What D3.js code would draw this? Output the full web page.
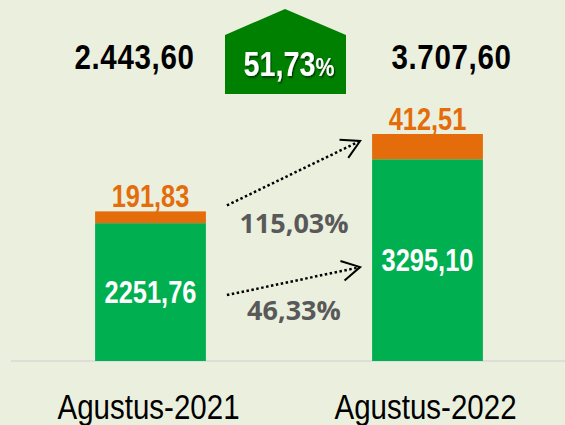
<!DOCTYPE html>
<html>
<head>
<meta charset="utf-8">
<script src="https://cdn.jsdelivr.net/npm/d3@7"></script>
<style>
  html, body { margin: 0; padding: 0; background: #ebf0de; }
  svg { display: block; }
</style>
</head>
<body>
<script>
const categories = ["Agustus-2021", "Agustus-2022"];
const greenValues = [2251.76, 3295.10];
const orangeValues = [191.83, 412.51];
const totalLabels = ["2.443,60", "3.707,60"];
const growthLabels = ["115,03%", "46,33%"]; // orange growth, green growth
const overallGrowth = "51,73";

const width = 565;
const height = 425;
const baseY = 361;
// no narrow font installed, so squeeze Liberation Sans horizontally
const sans = "'Liberation Sans', Arial, sans-serif";
const squeeze = 0.82;
const at = (px, py) => `translate(${px},${py}) scale(${squeeze},1)`;

const totals = greenValues.map((g, i) => g + orangeValues[i]);
const fmt = v => d3.format(".2f")(v).replace(".", ",");

const svg = d3
  .select("body")
  .append("svg")
  .attr("width", width)
  .attr("height", height);

svg.append("rect").attr("width", width).attr("height", height).attr("fill", "#ebf0de");

const defs = svg.append("defs");
defs
  .append("marker")
  .attr("id", "arrow")
  .attr("markerUnits", "userSpaceOnUse")
  .attr("orient", "auto")
  .attr("refX", 0)
  .attr("refY", 0)
  .attr("markerWidth", 30)
  .attr("markerHeight", 30)
  .attr("viewBox", "-25 -15 30 30")
  .append("path")
  .attr("d", "M-18,-10L0,0L-18,10")
  .attr("fill", "none")
  .attr("stroke", "#000")
  .attr("stroke-width", 2);

defs
  .append("filter")
  .attr("id", "shadow")
  .append("feDropShadow")
  .attr("dx", 1.5)
  .attr("dy", 1.5)
  .attr("stdDeviation", 0.8)
  .attr("flood-color", "#000")
  .attr("flood-opacity", 0.6);

const x = d3
  .scaleBand()
  .domain(categories)
  .range([12, 566])
  .paddingInner(0.6)
  .paddingOuter(0.3);

const y = d3
  .scaleLinear()
  .domain([0, d3.max(totals)])
  .range([baseY, 134]);

// axis line
svg
  .append("line")
  .attr("x1", 11)
  .attr("x2", width)
  .attr("y1", baseY)
  .attr("y2", baseY)
  .attr("stroke", "#d9d9d9")
  .attr("stroke-width", 1.5);

// green bars
svg
  .selectAll(".green")
  .data(categories)
  .join("rect")
  .attr("class", "green")
  .attr("x", d => x(d))
  .attr("width", x.bandwidth())
  .attr("y", (d, i) => y(greenValues[i]))
  .attr("height", (d, i) => y(0) - y(greenValues[i]))
  .attr("fill", "#00b050");

// orange bars stacked on top
svg
  .selectAll(".orange")
  .data(categories)
  .join("rect")
  .attr("class", "orange")
  .attr("x", d => x(d))
  .attr("width", x.bandwidth())
  .attr("y", (d, i) => y(totals[i]))
  .attr("height", (d, i) => y(greenValues[i]) - y(totals[i]))
  .attr("fill", "#e46c0a");

// green value labels
svg
  .selectAll(".glabel")
  .data(categories)
  .join("text")
  .attr("transform", (d, i) => at(x(d) + x.bandwidth() / 2, (y(0) + y(greenValues[i])) / 2 + 11))
  .attr("text-anchor", "middle")
  .attr("font-family", sans)
  .attr("font-weight", "bold")
  .attr("font-size", 31)
  .attr("fill", "#fff")
  .text((d, i) => fmt(greenValues[i]));

// orange value labels
svg
  .selectAll(".olabel")
  .data(categories)
  .join("text")
  .attr("transform", (d, i) => at(x(d) + x.bandwidth() / 2, y(totals[i]) - 4.5))
  .attr("text-anchor", "middle")
  .attr("font-family", sans)
  .attr("font-weight", "bold")
  .attr("font-size", 31)
  .attr("fill", "#e46c0a")
  .text((d, i) => fmt(orangeValues[i]));

// category labels
svg
  .selectAll(".cat")
  .data(categories)
  .join("text")
  .attr("transform", d => at(x(d) + x.bandwidth() / 2 - 2, 419))
  .attr("text-anchor", "middle")
  .attr("font-family", sans)
  .attr("font-size", 36)
  .attr("fill", "#000")
  .text(d => d);

// totals at the top
const totalDx = [-16, 24];
svg
  .selectAll(".total")
  .data(categories)
  .join("text")
  .attr("transform", (d, i) => at(x(d) + x.bandwidth() / 2 + totalDx[i], 69))
  .attr("text-anchor", "middle")
  .attr("font-family", sans)
  .attr("font-weight", "bold")
  .attr("font-size", 36)
  .attr("letter-spacing", 0.8)
  .attr("fill", "#000")
  .text((d, i) => totalLabels[i]);

// growth badge (pentagon)
const bx = 285;
const badge = d3.path();
badge.moveTo(bx - 60, 35);
badge.lineTo(bx, 9);
badge.lineTo(bx + 61, 35);
badge.lineTo(bx + 61, 94);
badge.lineTo(bx - 60, 94);
badge.closePath();
svg.append("path").attr("d", badge.toString()).attr("fill", "#008000");

const badgeText = svg
  .append("text")
  .attr("transform", at(bx + 4, 76))
  .attr("text-anchor", "middle")
  .attr("font-family", sans)
  .attr("font-weight", "bold")
  .attr("font-size", 35)
  .attr("fill", "#fff")
  .attr("filter", "url(#shadow)");
badgeText.append("tspan").text(overallGrowth);
badgeText.append("tspan").attr("font-size", 26).text("%");

// dotted arrows between the segments
const b1 = x(categories[0]) + x.bandwidth();
const b2 = x(categories[1]);
const arrows = [
  [b1 + 21, y(totals[0]) - 6, b2 - 12, y(totals[1]) + 7],
  [b1 + 21, (y(0) + y(greenValues[0])) / 2 + 3, b2 - 12, (y(0) + y(greenValues[1])) / 2 + 7]
];

svg
  .selectAll(".arrow")
  .data(arrows)
  .join("line")
  .attr("x1", d => d[0])
  .attr("y1", d => d[1])
  .attr("x2", d => d[2])
  .attr("y2", d => d[3])
  .attr("stroke", "#000")
  .attr("stroke-width", 2.5)
  .attr("stroke-dasharray", "2.5,2.5")
  .attr("marker-end", "url(#arrow)");

// growth percentages
const gapMid = (b1 + b2) / 2;
const growthDy = [28, 25];
svg
  .selectAll(".growth")
  .data(arrows)
  .join("text")
  .attr("x", gapMid + 5)
  .attr("y", (d, i) => d[1] + growthDy[i])
  .attr("text-anchor", "middle")
  .attr("font-family", "'Open Sans', sans-serif")
  .attr("font-weight", "bold")
  .attr("font-size", 27)
  .attr("fill", "#595959")
  .text((d, i) => growthLabels[i]);
</script>
</body>
</html>
